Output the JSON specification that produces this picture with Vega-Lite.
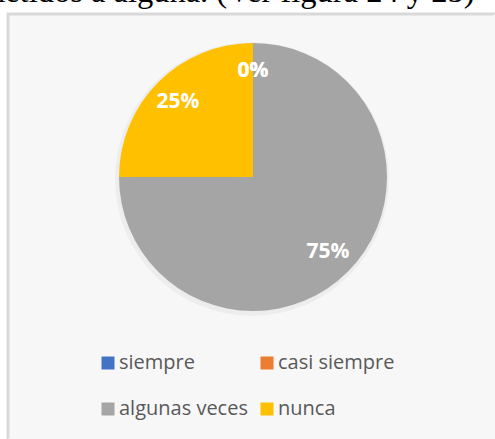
{
  "$schema": "https://vega.github.io/schema/vega-lite/v6.json",
  "width": 487,
  "height": 425,
  "autosize": "none",
  "padding": {"left": 8, "top": 14, "right": 0, "bottom": 0},
  "background": "white",
  "view": {
    "fill": "#f7f7f7",
    "stroke": {
      "gradient": "linear",
      "x1": 0, "y1": 0, "x2": 1, "y2": 1,
      "stops": [
        {"offset": 0, "color": "#d9d9d9"},
        {"offset": 0.499, "color": "#d9d9d9"},
        {"offset": 0.501, "color": "#f7f7f7"},
        {"offset": 1, "color": "#f7f7f7"}
      ]
    },
    "strokeWidth": 3
  },
  "title": {
    "text": "sometidos a alguna. (Ver figura 24 y 25)",
    "font": "Liberation Serif",
    "fontSize": 32.5,
    "fontWeight": "normal",
    "color": "#000000",
    "anchor": "start",
    "frame": "group",
    "dx": -57,
    "dy": 17,
    "baseline": "alphabetic",
    "offset": -3
  },
  "data": {
    "values": [
      {"categoria": "siempre", "valor": 0, "orden": 1},
      {"categoria": "casi siempre", "valor": 0, "orden": 2},
      {"categoria": "algunas veces", "valor": 0.75, "orden": 3},
      {"categoria": "nunca", "valor": 0.25, "orden": 4}
    ]
  },
  "layer": [
    {
      "mark": {"type": "arc", "x": 244, "y": 165, "outerRadius": 137, "fill": "#000000", "opacity": 0.04},
      "encoding": {
        "theta": {"field": "valor", "type": "quantitative", "stack": true},
        "order": {"field": "orden", "type": "quantitative"}
      }
    },
    {
      "mark": {"type": "arc", "x": 245, "y": 163, "outerRadius": 134},
      "encoding": {
        "theta": {"field": "valor", "type": "quantitative", "stack": true},
        "order": {"field": "orden", "type": "quantitative"},
        "color": {
          "field": "categoria",
          "type": "nominal",
          "sort": null,
          "scale": {
            "domain": ["siempre", "casi siempre", "algunas veces", "nunca"],
            "range": ["#4472C4", "#ED7D31", "#A5A5A5", "#FFC000"]
          },
          "legend": {
            "title": null,
            "orient": "none",
            "direction": "horizontal",
            "legendX": 90,
            "legendY": 339,
            "columns": 2,
            "columnPadding": 9,
            "rowPadding": 26,
            "padding": 0,
            "symbolType": "square",
            "symbolSize": 169,
            "symbolStrokeWidth": 0,
            "labelFont": "Open Sans",
            "labelFontSize": 20,
            "labelColor": "#595959",
            "labelOffset": 1,
            "labelLimit": 300
          }
        }
      }
    },
    {
      "mark": {"type": "text", "x": 245, "y": 163, "radius": 106, "font": "Open Sans", "fontSize": 21, "fontWeight": "bold", "fill": "#ffffff"},
      "encoding": {
        "theta": {"field": "valor", "type": "quantitative", "stack": true},
        "order": {"field": "orden", "type": "quantitative"},
        "text": {"field": "valor", "type": "quantitative", "format": ".0%"}
      }
    }
  ]
}
